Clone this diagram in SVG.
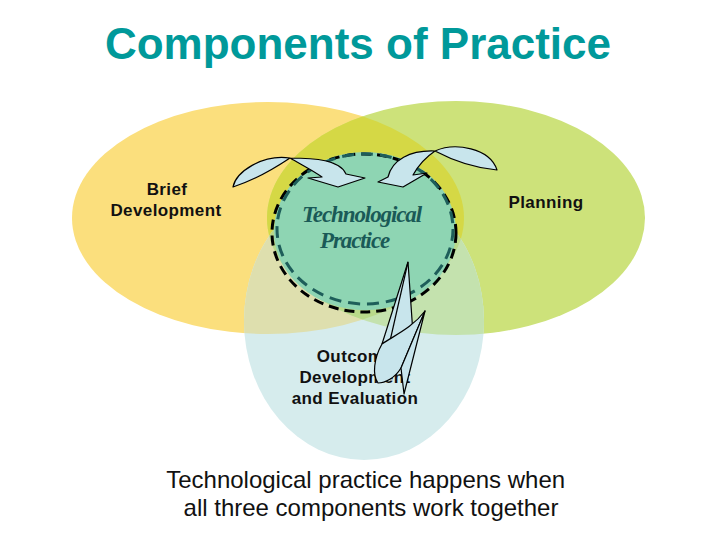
<svg xmlns="http://www.w3.org/2000/svg" width="728" height="546" viewBox="0 0 728 546">
<style>
.lbl{font-family:"Liberation Sans",Arial,sans-serif;font-weight:bold;font-size:17px;fill:#111;text-anchor:middle;letter-spacing:0.4px}
.arrow{fill:#C8E5EC;stroke:#000;stroke-width:1.2;stroke-linejoin:round}
.line{fill:none;stroke:#000;stroke-width:1.2}
</style>
<defs>
<clipPath id="cY"><ellipse cx="268" cy="218" rx="196" ry="116"/></clipPath>
<clipPath id="cG"><ellipse cx="456" cy="218" rx="189" ry="117"/></clipPath>
</defs>
<rect width="728" height="546" fill="#fff"/>
<text x="358" y="59" font-family="'Liberation Sans',Arial,sans-serif" font-weight="bold" font-size="44" fill="#00999A" text-anchor="middle">Components of Practice</text>

<g id="brief">
<ellipse cx="268" cy="218" rx="196" ry="116" fill="#FBDF7D"/>
<text class="lbl" x="167" y="195">Brief</text>
<text class="lbl" x="166" y="216">Development</text>
</g>
<g id="planning">
<ellipse cx="456" cy="218" rx="189" ry="117" fill="#CDE27A"/>
<text class="lbl" x="546" y="208">Planning</text>
</g>
<g id="outcome">
<ellipse cx="364" cy="321" rx="120" ry="139" fill="#D6ECED"/>
<text class="lbl" x="355" y="362">Outcome</text>
<text class="lbl" x="355" y="383">Development</text>
<text class="lbl" x="355" y="404">and Evaluation</text>
</g>
<g id="overlaps">
<g clip-path="url(#cY)"><ellipse cx="456" cy="218" rx="189" ry="117" fill="#D5D845"/></g>
<g clip-path="url(#cY)"><ellipse cx="364" cy="321" rx="120" ry="139" fill="#DEDFAE"/></g>
<g clip-path="url(#cG)"><ellipse cx="364" cy="321" rx="120" ry="139" fill="#C4E2AE"/></g>
<g clip-path="url(#cY)"><g clip-path="url(#cG)"><ellipse cx="364" cy="321" rx="120" ry="139" fill="#B9D98A"/></g></g>
</g>
<g id="practice">
<ellipse cx="365" cy="231" rx="91" ry="79" fill="#8ED5B3"/>
<ellipse cx="364" cy="233" rx="92" ry="79" fill="none" stroke="#000" stroke-width="3" stroke-dasharray="10 6"/>
<ellipse cx="365" cy="229" rx="88" ry="75" fill="none" stroke="#1E5E5A" stroke-width="3" stroke-dasharray="12 7"/>
<text font-family="'Liberation Serif','Times New Roman',serif" font-weight="bold" font-style="italic" font-size="23" fill="#1A5A57" letter-spacing="-1.1">
<tspan x="302" y="222">Technological</tspan>
<tspan x="320" y="248">Practice</tspan>
</text>
</g>
<g id="connectors">
<path class="arrow" d="M290,158 C275,168 255,180 233,187 C236,172 262,154 290,158 Z M290,158 C315,158 340,160 346,174 L365,178 L338,187 L308,178 L322,177 C312,170 300,164 290,158 Z"/>
<path class="arrow" d="M435,151 C455,142 490,148 497,170 C475,168 452,160 435,151 Z M435,151 C410,150 392,160 388,177 L378,182 L403,187 L427,173 L413,175 C418,166 426,157 435,151 Z"/>
<path class="arrow" d="M408,262 L382,344 C395,336 405,334 413,334 Z"/>
<path class="line" d="M408,262 L390,341"/>
<path class="arrow" d="M382,344 C395,335 412,328 425,311 L401,368 C395,378 385,383 378,383 C372,375 374,358 382,344 Z"/>
<path class="arrow" d="M425,311 L404,394 L401,368 Z"/>
</g>
<text font-family="'Liberation Sans',Arial,sans-serif" font-size="24" fill="#111" text-anchor="middle">
<tspan x="369" y="488">Technological practice happens when</tspan>
<tspan x="371" y="516">all three components work together</tspan>
</text>
</svg>
